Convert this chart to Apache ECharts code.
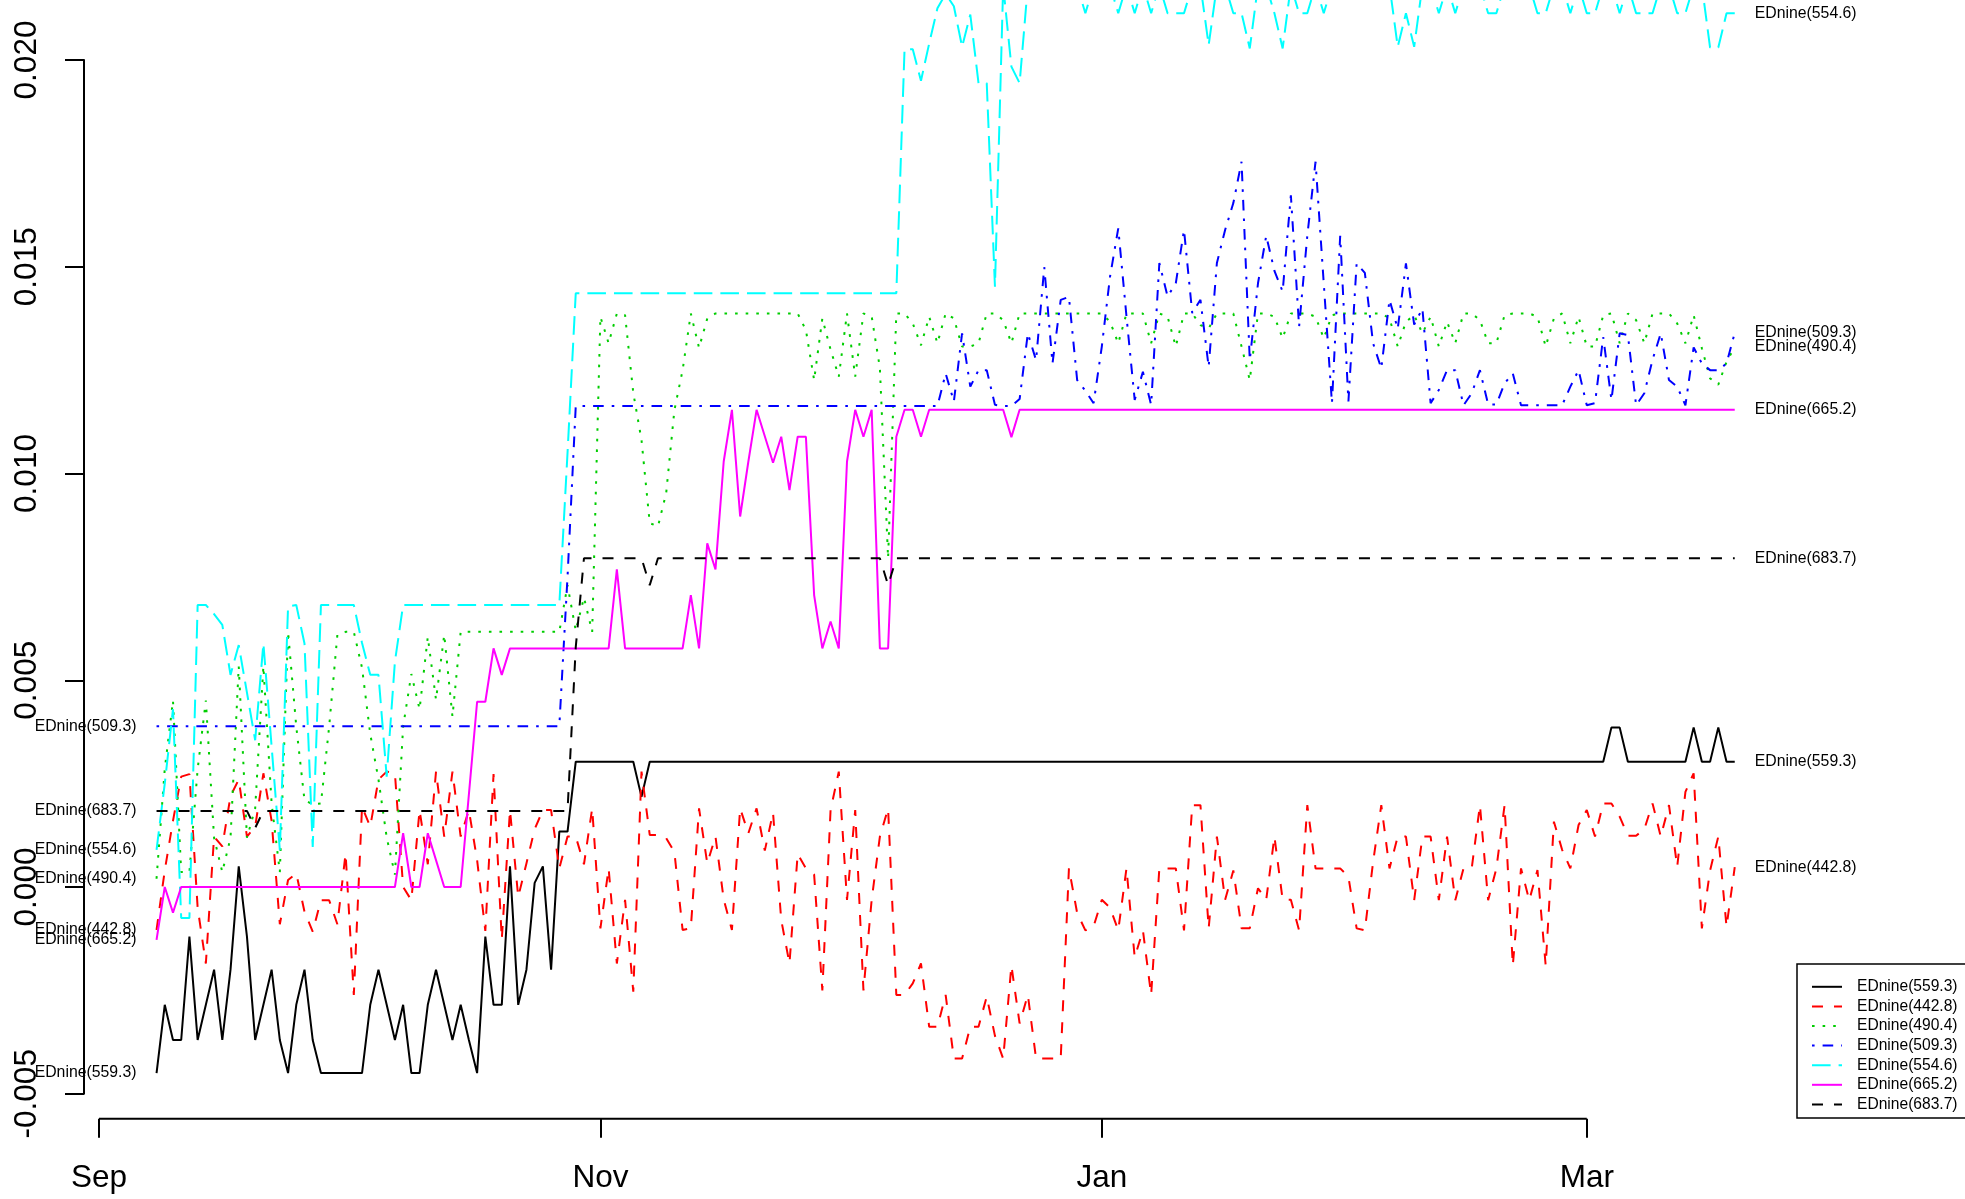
<!DOCTYPE html>
<html>
<head>
<meta charset="utf-8">
<script src="https://cdn.jsdelivr.net/npm/echarts@6/dist/echarts.min.js"></script>
<style>
  html, body { margin: 0; padding: 0; background: #ffffff; }
  #chart { width: 1965px; height: 1199px; }
</style>
</head>
<body>
<div id="chart"></div>
<script>
// Daily EDnine indices, one value per day starting at firstDay (Sep 8 2020 .. Mar 19 2021).
const firstDay = '2020-09-08';

const seriesNames = ['EDnine(559.3)', 'EDnine(442.8)', 'EDnine(490.4)', 'EDnine(509.3)',
                     'EDnine(554.6)', 'EDnine(665.2)', 'EDnine(683.7)'];
const seriesColors = ['#000000', '#ff0000', '#00cd00', '#0000ff', '#00ffff', '#ff00ff', '#000000'];

// rows of ten days each
const ednine559 = [
  -0.0045,-0.00285,-0.0037,-0.0037,-0.0012,-0.0037,-0.00285,-0.002,-0.0037,-0.002,
  0.0005,-0.0012,-0.0037,-0.00285,-0.002,-0.0037,-0.0045,-0.00285,-0.002,-0.0037,
  -0.0045,-0.0045,-0.0045,-0.0045,-0.0045,-0.0045,-0.00285,-0.002,-0.00285,-0.0037,
  -0.00285,-0.0045,-0.0045,-0.00285,-0.002,-0.00285,-0.0037,-0.00285,-0.0037,-0.0045,
  -0.0012,-0.00285,-0.00285,0.0005,-0.00285,-0.002,0.0001,0.0005,-0.002,0.00134,
  0.00134,0.00303,0.00303,0.00303,0.00303,0.00303,0.00303,0.00303,0.00303,0.00218,
  0.00303,0.00303,0.00303,0.00303,0.00303,0.00303,0.00303,0.00303,0.00303,0.00303,
  0.00303,0.00303,0.00303,0.00303,0.00303,0.00303,0.00303,0.00303,0.00303,0.00303,
  0.00303,0.00303,0.00303,0.00303,0.00303,0.00303,0.00303,0.00303,0.00303,0.00303,
  0.00303,0.00303,0.00303,0.00303,0.00303,0.00303,0.00303,0.00303,0.00303,0.00303,
  0.00303,0.00303,0.00303,0.00303,0.00303,0.00303,0.00303,0.00303,0.00303,0.00303,
  0.00303,0.00303,0.00303,0.00303,0.00303,0.00303,0.00303,0.00303,0.00303,0.00303,
  0.00303,0.00303,0.00303,0.00303,0.00303,0.00303,0.00303,0.00303,0.00303,0.00303,
  0.00303,0.00303,0.00303,0.00303,0.00303,0.00303,0.00303,0.00303,0.00303,0.00303,
  0.00303,0.00303,0.00303,0.00303,0.00303,0.00303,0.00303,0.00303,0.00303,0.00303,
  0.00303,0.00303,0.00303,0.00303,0.00303,0.00303,0.00303,0.00303,0.00303,0.00303,
  0.00303,0.00303,0.00303,0.00303,0.00303,0.00303,0.00303,0.00303,0.00303,0.00303,
  0.00303,0.00303,0.00303,0.00303,0.00303,0.00303,0.00303,0.00386,0.00386,0.00303,
  0.00303,0.00303,0.00303,0.00303,0.00303,0.00303,0.00303,0.00386,0.00303,0.00303,
  0.00386,0.00303,0.00303
];

const ednine442 = [
  -0.00104,0.0004,0.0016,0.00267,0.00273,-0.0005,-0.00185,0.00122,0.00098,0.0022,
  0.0026,0.00122,0.00146,0.00275,0.0016,-0.0009,0.00017,0.00033,-0.0006,-0.00108,
  -0.00032,-0.00032,-0.0009,0.00081,-0.00261,0.00194,0.00146,0.0026,0.00279,0.00275,
  0,-0.00032,0.00186,0.00055,0.00279,0.00122,0.00279,0.00122,0.00186,0.00065,
  -0.00106,0.00273,-0.00127,0.00186,-0.00024,0.00057,0.0014,0.00186,0.00186,0.00045,
  0.00122,0.00122,0.00055,0.0019,-0.001,0.00045,-0.00185,-0.00031,-0.00253,0.00279,
  0.00126,0.00126,0.00118,0.00085,-0.00104,-0.001,0.0019,0.00057,0.00122,-0.0003,
  -0.00104,0.0019,0.0013,0.0019,0.00088,0.0018,-0.0008,-0.00185,0.0008,0.00045,
  0.0003,-0.0025,0.00186,0.00279,-0.00031,0.00186,-0.0025,-0.00031,0.00122,0.0019,
  -0.00261,-0.00261,-0.00233,-0.00185,-0.00338,-0.00338,-0.00261,-0.00415,-0.00415,-0.00338,
  -0.00338,-0.00265,-0.0036,-0.00415,-0.0019,-0.0033,-0.00261,-0.00415,-0.00415,-0.00415,
  -0.00415,0.00045,-0.00063,-0.00105,-0.00095,-0.00031,-0.0005,-0.00105,0.00045,-0.0017,
  -0.00105,-0.00261,0.00045,0.00045,0.00045,-0.00105,0.00198,0.00198,-0.001,0.00122,
  -0.00031,0.0004,-0.001,-0.001,-0.00003,-0.00031,0.00122,-0.00031,-0.00031,-0.00105,
  0.00198,0.00045,0.00045,0.00045,0.00045,0.00025,-0.001,-0.00105,0.0006,0.00198,
  0.00045,0.00122,0.00122,-0.00032,0.00122,0.00122,-0.00032,0.00122,-0.00032,0.00045,
  0.00045,0.00198,-0.00032,0.00045,0.00198,-0.0019,0.00045,-0.00032,0.00041,-0.0019,
  0.00158,0.0009,0.00045,0.0015,0.00186,0.00122,0.00202,0.00202,0.0017,0.00124,
  0.00124,0.0014,0.00202,0.00122,0.00198,0.00049,0.0023,0.00275,-0.001,0.0004,
  0.00122,-0.00096,0.00048
];

const ednine490 = [
  0.0002,0.00285,0.00451,0.00036,0.00036,0.00285,0.00451,0.00119,0.00036,0.00119,
  0.00534,0.00119,0.0019,0.00534,0.00202,0.00036,0.00617,0.00388,0.0021,0.002,
  0.00202,0.00388,0.0061,0.00617,0.00617,0.0053,0.0037,0.0026,0.0012,0.0003,
  0.00388,0.00515,0.0043,0.00605,0.00453,0.0061,0.00412,0.00617,0.00617,0.00617,
  0.00617,0.00617,0.00617,0.00617,0.00617,0.00617,0.00617,0.00617,0.00617,0.00617,
  0.0073,0.0062,0.007,0.00617,0.01379,0.01315,0.01387,0.01383,0.01195,0.01081,
  0.0088,0.00872,0.00952,0.01153,0.0125,0.01387,0.01304,0.01375,0.01387,0.01387,
  0.01387,0.01387,0.01387,0.01387,0.01387,0.01387,0.01387,0.01387,0.01387,0.01347,
  0.01226,0.01375,0.013,0.01234,0.01387,0.01234,0.01387,0.0138,0.01255,0.00795,
  0.01387,0.01387,0.01363,0.0131,0.01379,0.01315,0.01387,0.01375,0.01307,0.01307,
  0.01315,0.01387,0.01387,0.01371,0.01315,0.01387,0.01387,0.01387,0.01387,0.01387,
  0.01387,0.01387,0.01387,0.01387,0.01387,0.01387,0.01367,0.01315,0.01387,0.01387,
  0.01387,0.01315,0.01387,0.01379,0.01307,0.01387,0.01387,0.01359,0.01351,0.01387,
  0.01387,0.01387,0.01307,0.01226,0.01387,0.01387,0.01379,0.01327,0.01387,0.01387,
  0.01387,0.01379,0.01327,0.01383,0.01387,0.01387,0.01387,0.01387,0.01387,0.01387,
  0.01375,0.01307,0.01367,0.01383,0.01339,0.01379,0.01307,0.01367,0.01315,0.01387,
  0.01387,0.01371,0.01315,0.01315,0.01383,0.01387,0.01387,0.01387,0.01379,0.01307,
  0.01375,0.01387,0.01315,0.01379,0.01307,0.01307,0.01383,0.01387,0.01315,0.01387,
  0.01371,0.01315,0.01387,0.01387,0.01387,0.01363,0.01315,0.01383,0.01303,0.0123,
  0.01215,0.0127,0.01306
];

const ednine509 = [
  0.00389,0.00389,0.00389,0.00389,0.00389,0.00389,0.00389,0.00389,0.00389,0.00389,
  0.00389,0.00389,0.00389,0.00389,0.00389,0.00389,0.00389,0.00389,0.00389,0.00389,
  0.00389,0.00389,0.00389,0.00389,0.00389,0.00389,0.00389,0.00389,0.00389,0.00389,
  0.00389,0.00389,0.00389,0.00389,0.00389,0.00389,0.00389,0.00389,0.00389,0.00389,
  0.00389,0.00389,0.00389,0.00389,0.00389,0.00389,0.00389,0.00389,0.00389,0.00389,
  0.0075,0.01163,0.01163,0.01163,0.01163,0.01163,0.01163,0.01163,0.01163,0.01163,
  0.01163,0.01163,0.01163,0.01163,0.01163,0.01163,0.01163,0.01163,0.01163,0.01163,
  0.01163,0.01163,0.01163,0.01163,0.01163,0.01163,0.01163,0.01163,0.01163,0.01163,
  0.01163,0.01163,0.01163,0.01163,0.01163,0.01163,0.01163,0.01163,0.01163,0.01163,
  0.01163,0.01163,0.01163,0.01163,0.01163,0.01163,0.01242,0.01174,0.01339,0.0121,
  0.0125,0.0125,0.01166,0.01163,0.01163,0.0118,0.01339,0.01274,0.01499,0.01266,
  0.0142,0.01427,0.01226,0.012,0.0117,0.01307,0.01476,0.01593,0.0138,0.01178,
  0.01246,0.01166,0.01509,0.01428,0.0146,0.01589,0.01388,0.0142,0.01258,0.01509,
  0.01589,0.01654,0.01754,0.01274,0.0146,0.01575,0.0149,0.0144,0.01673,0.01355,
  0.01575,0.01754,0.0146,0.0117,0.01575,0.01174,0.01508,0.01485,0.01315,0.01254,
  0.0142,0.0135,0.01508,0.0136,0.01399,0.0117,0.01202,0.0125,0.0125,0.01165,
  0.01194,0.0125,0.01167,0.01167,0.01218,0.01242,0.01165,0.01165,0.01165,0.01165,
  0.01165,0.01165,0.0121,0.0125,0.01165,0.0117,0.0133,0.01178,0.01339,0.01335,
  0.01165,0.01194,0.01275,0.01339,0.01226,0.0121,0.01165,0.01305,0.01266,0.0125,
  0.0125,0.01266,0.0134
];

const ednine554 = [
  0.0009,0.0025,0.0043,-0.00075,-0.00075,0.00682,0.00682,0.0066,0.00634,0.00513,
  0.00585,0.0047,0.00355,0.00589,0.0034,0.00089,0.00678,0.00682,0.00589,0.00097,
  0.00682,0.00682,0.00682,0.00682,0.00682,0.0059,0.00513,0.00513,0.00267,0.00545,
  0.00682,0.00682,0.00682,0.00682,0.00682,0.00682,0.00682,0.00682,0.00682,0.00682,
  0.00682,0.00682,0.00682,0.00682,0.00682,0.00682,0.00682,0.00682,0.00682,0.00682,
  0.0105,0.01436,0.01436,0.01436,0.01436,0.01436,0.01436,0.01436,0.01436,0.01436,
  0.01436,0.01436,0.01436,0.01436,0.01436,0.01436,0.01436,0.01436,0.01436,0.01436,
  0.01436,0.01436,0.01436,0.01436,0.01436,0.01436,0.01436,0.01436,0.01436,0.01436,
  0.01436,0.01436,0.01436,0.01436,0.01436,0.01436,0.01436,0.01436,0.01436,0.01436,
  0.01436,0.02026,0.02026,0.0195,0.0204,0.02125,0.0216,0.0213,0.02032,0.0211,
  0.01944,0.01944,0.01452,0.0218,0.01984,0.01944,0.0218,0.0218,0.0218,0.0218,
  0.0218,0.0218,0.0218,0.02113,0.0218,0.0218,0.0218,0.02113,0.0218,0.02113,
  0.0218,0.02113,0.0218,0.02113,0.02113,0.02113,0.0218,0.0218,0.02036,0.0218,
  0.0218,0.02113,0.02113,0.02028,0.0218,0.0218,0.02113,0.02028,0.0218,0.02113,
  0.02113,0.0218,0.02113,0.0218,0.0218,0.0218,0.0218,0.0218,0.0218,0.0218,
  0.0218,0.02032,0.02113,0.02032,0.0218,0.0218,0.02113,0.0218,0.02113,0.0218,
  0.0218,0.0218,0.02113,0.02113,0.0218,0.0218,0.0218,0.0218,0.02113,0.02113,
  0.0218,0.0218,0.02113,0.0218,0.02113,0.02113,0.0218,0.0218,0.02113,0.0218,
  0.02113,0.02113,0.02113,0.0218,0.0218,0.02113,0.02113,0.0218,0.0218,0.0203,
  0.0203,0.02113,0.02113
];

const ednine665 = [
  -0.00128,0,-0.00062,0,0,0,0,0,0,0,
  0,0,0,0,0,0,0,0,0,0,
  0,0,0,0,0,0,0,0,0,0,
  0.0013,0,0,0.0013,0.00065,0,0,0,0.00224,0.00448,
  0.00448,0.00577,0.00513,0.00577,0.00577,0.00577,0.00577,0.00577,0.00577,0.00577,
  0.00577,0.00577,0.00577,0.00577,0.00577,0.00577,0.00768,0.00577,0.00577,0.00577,
  0.00577,0.00577,0.00577,0.00577,0.00577,0.00706,0.00577,0.00831,0.00768,0.01029,
  0.01154,0.00896,0.01029,0.01154,0.0109,0.01026,0.01089,0.0096,0.01089,0.01089,
  0.00706,0.00577,0.00642,0.00577,0.01029,0.01154,0.01089,0.01154,0.00577,0.00577,
  0.01089,0.01154,0.01154,0.01089,0.01154,0.01154,0.01154,0.01154,0.01154,0.01154,
  0.01154,0.01154,0.01154,0.01154,0.01088,0.01154,0.01154,0.01154,0.01154,0.01154,
  0.01154,0.01154,0.01154,0.01154,0.01154,0.01154,0.01154,0.01154,0.01154,0.01154,
  0.01154,0.01154,0.01154,0.01154,0.01154,0.01154,0.01154,0.01154,0.01154,0.01154,
  0.01154,0.01154,0.01154,0.01154,0.01154,0.01154,0.01154,0.01154,0.01154,0.01154,
  0.01154,0.01154,0.01154,0.01154,0.01154,0.01154,0.01154,0.01154,0.01154,0.01154,
  0.01154,0.01154,0.01154,0.01154,0.01154,0.01154,0.01154,0.01154,0.01154,0.01154,
  0.01154,0.01154,0.01154,0.01154,0.01154,0.01154,0.01154,0.01154,0.01154,0.01154,
  0.01154,0.01154,0.01154,0.01154,0.01154,0.01154,0.01154,0.01154,0.01154,0.01154,
  0.01154,0.01154,0.01154,0.01154,0.01154,0.01154,0.01154,0.01154,0.01154,0.01154,
  0.01154,0.01154,0.01154
];

const ednine683 = [
  0.00184,0.00184,0.00184,0.00184,0.00184,0.00184,0.00184,0.00184,0.00184,0.00184,
  0.00184,0.00184,0.00143,0.00184,0.00184,0.00184,0.00184,0.00184,0.00184,0.00184,
  0.00184,0.00184,0.00184,0.00184,0.00184,0.00184,0.00184,0.00184,0.00184,0.00184,
  0.00184,0.00184,0.00184,0.00184,0.00184,0.00184,0.00184,0.00184,0.00184,0.00184,
  0.00184,0.00184,0.00184,0.00184,0.00184,0.00184,0.00184,0.00184,0.00184,0.00184,
  0.00184,0.0058,0.00795,0.00795,0.00795,0.00795,0.00795,0.00795,0.00795,0.00795,
  0.0073,0.00795,0.00795,0.00795,0.00795,0.00795,0.00795,0.00795,0.00795,0.00795,
  0.00795,0.00795,0.00795,0.00795,0.00795,0.00795,0.00795,0.00795,0.00795,0.00795,
  0.00795,0.00795,0.00795,0.00795,0.00795,0.00795,0.00795,0.00795,0.00795,0.0073,
  0.00795,0.00795,0.00795,0.00795,0.00795,0.00795,0.00795,0.00795,0.00795,0.00795,
  0.00795,0.00795,0.00795,0.00795,0.00795,0.00795,0.00795,0.00795,0.00795,0.00795,
  0.00795,0.00795,0.00795,0.00795,0.00795,0.00795,0.00795,0.00795,0.00795,0.00795,
  0.00795,0.00795,0.00795,0.00795,0.00795,0.00795,0.00795,0.00795,0.00795,0.00795,
  0.00795,0.00795,0.00795,0.00795,0.00795,0.00795,0.00795,0.00795,0.00795,0.00795,
  0.00795,0.00795,0.00795,0.00795,0.00795,0.00795,0.00795,0.00795,0.00795,0.00795,
  0.00795,0.00795,0.00795,0.00795,0.00795,0.00795,0.00795,0.00795,0.00795,0.00795,
  0.00795,0.00795,0.00795,0.00795,0.00795,0.00795,0.00795,0.00795,0.00795,0.00795,
  0.00795,0.00795,0.00795,0.00795,0.00795,0.00795,0.00795,0.00795,0.00795,0.00795,
  0.00795,0.00795,0.00795,0.00795,0.00795,0.00795,0.00795,0.00795,0.00795,0.00795,
  0.00795,0.00795,0.00795
];

const seriesValues = [ednine559, ednine442, ednine490, ednine509, ednine554, ednine665, ednine683];

// Axis ticks
const xTickDates = ['2020-09-01', '2020-11-01', '2021-01-01', '2021-03-01'];
const xTickLabels = ['Sep', 'Nov', 'Jan', 'Mar'];
const xRangeEnd = '2021-03-22';
const yTickMin = -0.005, yTickMax = 0.020, yTickStep = 0.005;

// Line patterns in drawing order: solid, dashed, dotted, dot-dash, long dash, solid, dashed
const lineDash = ['solid', [11, 11], [2.6, 8], [2.6, 8, 10.6, 8], [18.6, 8], 'solid', [11, 11]];

const DAY = 86400000;
const toTime = d => Date.parse(d + 'T00:00:00Z');
const startTime = toTime(firstDay);
const xTickTimes = xTickDates.map(toTime);

const FONT = '"Liberation Sans", Arial, Helvetica, sans-serif';
const labelText = { color: '#000', fontSize: 15.8, fontFamily: FONT };

const series = seriesNames.map((name, k) => {
  const data = seriesValues[k].map((v, i) => [startTime + i * DAY, v]);
  return {
    name: name,
    type: 'line',
    data: data,
    symbol: 'none',
    clip: false,
    animation: false,
    silent: true,
    z: 2 + k,
    lineStyle: { color: seriesColors[k], width: 2, type: lineDash[k], cap: 'butt' },
    itemStyle: { color: seriesColors[k] },
    endLabel: Object.assign({ show: true, formatter: name, distance: 20 }, labelText),
    markPoint: {
      silent: true,
      symbol: 'circle',
      symbolSize: 0,
      data: [{ coord: data[0] }],
      label: Object.assign({ show: true, position: 'left', distance: 20, formatter: name }, labelText)
    }
  };
});

const AXIS_OFFSET_X = 25;
const chart = echarts.init(document.getElementById('chart'), null, { renderer: 'canvas' });
chart.setOption({
  animation: false,
  backgroundColor: '#ffffff',
  grid: { left: 99, right: 205.6, top: 60, bottom: 105.25, containLabel: false },
  xAxis: {
    type: 'value',
    min: xTickTimes[0],
    max: toTime(xRangeEnd),
    offset: AXIS_OFFSET_X,
    axisLine: { show: false, onZero: false },
    axisTick: { show: true, customValues: xTickTimes, length: 19, lineStyle: { color: '#000', width: 2 } },
    axisLabel: {
      show: true, customValues: xTickTimes,
      formatter: v => xTickLabels[xTickTimes.indexOf(v)],
      color: '#000', fontSize: 31.5, fontFamily: FONT, margin: 44
    },
    splitLine: { show: false }
  },
  yAxis: {
    type: 'value',
    min: yTickMin, max: yTickMax, interval: yTickStep,
    offset: 15,
    axisLine: { show: true, onZero: false, lineStyle: { color: '#000', width: 2 } },
    axisTick: { show: true, length: 19, lineStyle: { color: '#000', width: 2 } },
    axisLabel: {
      show: true, rotate: 90,
      formatter: v => v.toFixed(3),
      color: '#000', fontSize: 31.5, fontFamily: FONT, margin: 41
    },
    splitLine: { show: false }
  },
  legend: {
    data: seriesNames,
    orient: 'vertical',
    left: 1797, top: 964,
    padding: [14.8, 40, 5.7, 14],
    itemWidth: 30, itemHeight: 14, itemGap: 3.6,
    borderColor: '#000', borderWidth: 1.5,
    backgroundColor: '#ffffff',
    selectedMode: false,
    itemStyle: { opacity: 0 },
    textStyle: { color: '#000', fontSize: 15.6, fontFamily: FONT, padding: [0, 0, 0, 10] }
  },
  series: series
});

// The date axis line runs only from the first to the last tick, below the plotting area.
const xLineStart = chart.convertToPixel({ xAxisIndex: 0 }, xTickTimes[0]);
const xLineEnd = chart.convertToPixel({ xAxisIndex: 0 }, xTickTimes[xTickTimes.length - 1]);
const xLineY = chart.convertToPixel({ yAxisIndex: 0 }, yTickMin) + AXIS_OFFSET_X;
chart.setOption({
  graphic: [{
    type: 'line', silent: true,
    shape: { x1: xLineStart, y1: xLineY, x2: xLineEnd, y2: xLineY },
    style: { stroke: '#000', lineWidth: 2 }
  }]
});
</script>
</body>
</html>
